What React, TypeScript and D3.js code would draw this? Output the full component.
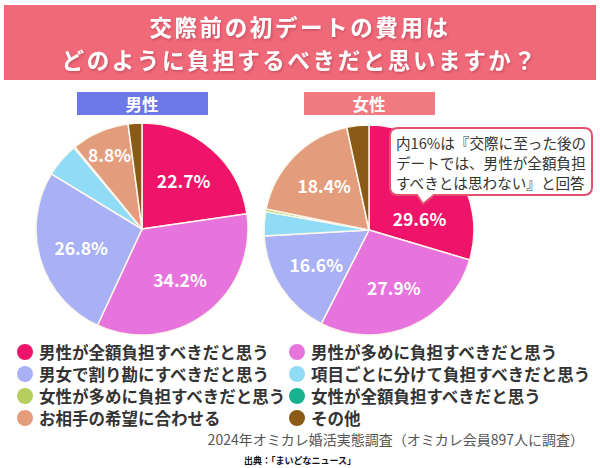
import React from "react";
import * as d3 from "d3";

const categories = [
  "男性が全額負担すべきだと思う",
  "男性が多めに負担すべきだと思う",
  "男女で割り勘にすべきだと思う",
  "項目ごとに分けて負担すべきだと思う",
  "女性が多めに負担すべきだと思う",
  "女性が全額負担すべきだと思う",
  "お相手の希望に合わせる",
  "その他",
];
const colors = ["#f0136a", "#e674dc", "#a9b1f6", "#90dcf6", "#b6cf5c", "#18b293", "#e49d7c", "#8b5a16"];
const maleValues = [22.7, 34.2, 26.8, 5.2, 0.1, 0.1, 8.8, 2.1];
const femaleValues = [29.6, 27.9, 16.6, 3.7, 0.4, 0.0, 18.4, 3.4];
const legendOrder = [0, 1, 2, 3, 4, 5, 6, 7];
const titleLines = ["交際前の初デートの費用は", "どのように負担するべきだと思いますか？"];
const calloutLines = ["内16%は『交際に至った後の", "デートでは、男性が全額負担", "すべきとは思わない』と回答"];
const sourceText = "2024年オミカレ婚活実態調査（オミカレ会員897人に調査）";
const creditText = "出典：「まいどなニュース」";

const FONT = "'Noto Sans CJK JP', 'Noto Sans', sans-serif";

type PieProps = {
  cx: number;
  cy: number;
  r: number;
  values: number[];
  label: string;
  labelColor: string;
  nudge?: Record<number, [number, number]>;
};

function Pie({ cx, cy, r, values, label, labelColor, nudge = {} }: PieProps) {
  const pie = d3.pie<number>().sort(null).value((d) => d);
  const arcs = pie(values);
  const arc = d3.arc<d3.PieArcDatum<number>>().innerRadius(0).outerRadius(r);
  const labelArc = (d: d3.PieArcDatum<number>) => {
    const k = d.value < 12 ? 0.77 : 0.6;
    return d3.arc<d3.PieArcDatum<number>>().innerRadius(r * k).outerRadius(r * k).centroid(d);
  };
  return (
    <g>
      <rect x={cx - 65} y={92} width={131} height={23} fill={labelColor} />
      <text x={cx} y={104} textAnchor="middle" dominantBaseline="central" fill="#fff" fontSize={16.5} fontWeight="bold" fontFamily={FONT}>
        {label}
      </text>
      <g transform={`translate(${cx},${cy})`}>
        {arcs.map((d, i) =>
          d.value > 0 ? (
            <path key={i} d={arc(d) || ""} fill={colors[i]} stroke="#fbf7ec" strokeWidth={1.5} />
          ) : null
        )}
        {arcs.map((d, i) => {
          if (d.value < 8) return null;
          const [x, y] = labelArc(d);
          const [nx, ny] = nudge[i] || [0, 0];
          return (
            <text key={"l" + i} x={x + nx} y={y + ny} textAnchor="middle" dominantBaseline="central" fill="#fff" fontSize={17.5} fontWeight="bold" fontFamily={FONT}>
              {d.value.toFixed(1)}%
            </text>
          );
        })}
      </g>
    </g>
  );
}

export default function App() {
  const W = 600;
  const H = 468;
  const bx = 390, by = 128, bw = 202, bh = 67, br = 8;
  const callout = `M${bx + br},${by} H${bx + bw - br} Q${bx + bw},${by} ${bx + bw},${by + br} V${by + bh - br} Q${bx + bw},${by + bh} ${bx + bw - br},${by + bh} H${bx + 44} L${bx + 33},${by + 76} L${bx + 27},${by + bh} H${bx + br} Q${bx},${by + bh} ${bx},${by + bh - br} V${by + br} Q${bx},${by} ${bx + br},${by} Z`;
  return (
    <svg width={W} height={H} style={{ position: "absolute", left: 0, top: 0, background: "#fff" }}>
      <defs>
        <filter id="ts" x="-10%" y="-10%" width="120%" height="130%">
          <feDropShadow dx="1" dy="1.5" stdDeviation="1" floodColor="#a03040" floodOpacity="0.5" />
        </filter>
      </defs>
      <rect width={W} height={H} fill="#fff" />
      <rect x={4} y={5} width={592} height={75} fill="#ef6979" />
      {titleLines.map((t, i) => (
        <text key={i} x={300} y={25.5 + i * 33} textAnchor="middle" dominantBaseline="central" fill="#fff" fontSize={22.5} fontWeight="bold" fontFamily={FONT} letterSpacing={2.6} filter="url(#ts)">
          {t}
        </text>
      ))}
      <Pie cx={142} cy={229} r={106} values={maleValues} label="男性" labelColor="#6c77e8" />
      <Pie cx={369} cy={230} r={105} values={femaleValues} label="女性" labelColor="#f07a80" nudge={{ 0: [0, 26] }} />
      <path d={callout} fill="#fff" stroke="#e4506f" strokeWidth={2} />
      {calloutLines.map((t, i) => (
        <text key={i} x={396} y={142 + i * 20} dominantBaseline="central" fill="#333" fontSize={14.6} fontFamily={FONT}>
          {t}
        </text>
      ))}
      {legendOrder.map((idx, k) => {
        const col = k % 2;
        const row = Math.floor(k / 2);
        const x = col === 0 ? 25 : 297;
        const y = 352 + row * 22;
        return (
          <g key={idx}>
            <circle cx={x} cy={y} r={8} fill={colors[idx]} />
            <text x={x + 14} y={y} dominantBaseline="central" fill="#333" fontSize={16.5} fontWeight="bold" fontFamily={FONT}>
              {categories[idx]}
            </text>
          </g>
        );
      })}
      <text x={584} y={439} textAnchor="end" dominantBaseline="central" fill="#555" fontSize={14} fontFamily={FONT}>
        {sourceText}
      </text>
      <text x={300} y={460} textAnchor="middle" dominantBaseline="central" fill="#111" fontSize={9} fontWeight="bold" fontFamily={FONT}>
        {creditText}
      </text>
    </svg>
  );
}
